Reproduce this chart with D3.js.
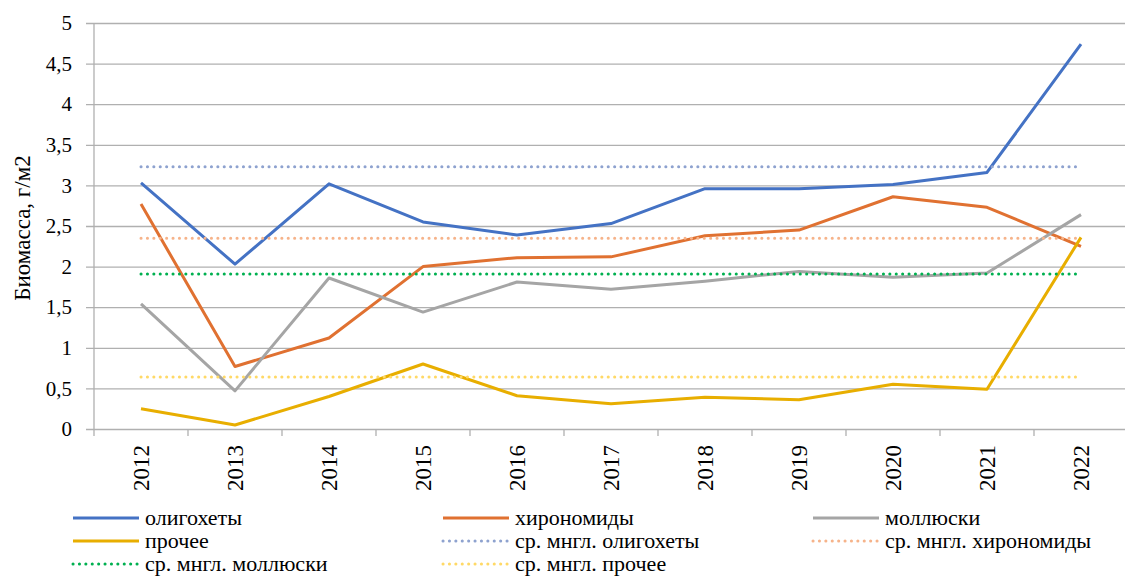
<!DOCTYPE html>
<html>
<head>
<meta charset="utf-8">
<script src="https://cdn.jsdelivr.net/npm/d3@7"></script>
<style>
	body { margin: 0; background: #fff; }
</style>
</head>
<body>
<script>
const years = ["2012", "2013", "2014", "2015", "2016", "2017", "2018", "2019", "2020", "2021", "2022"];
const oligochaetes = [3.03, 2.03, 3.02, 2.55, 2.39, 2.53, 2.96, 2.96, 3.01, 3.16, 4.74];
const chironomids = [2.77, 0.77, 1.12, 2.00, 2.11, 2.12, 2.38, 2.45, 2.86, 2.73, 2.25];
const molluscs = [1.54, 0.47, 1.86, 1.44, 1.81, 1.72, 1.82, 1.94, 1.87, 1.92, 2.64];
const other = [0.25, 0.05, 0.40, 0.80, 0.41, 0.31, 0.39, 0.36, 0.55, 0.49, 2.36];
const meanValues = [3.23, 2.35, 1.91, 0.64];
const yTicks = [0, 0.5, 1, 1.5, 2, 2.5, 3, 3.5, 4, 4.5, 5];

const series = [
	{ name: "олигохеты", values: oligochaetes, colour: "#4472c4" },
	{ name: "хирономиды", values: chironomids, colour: "#e07131" },
	{ name: "моллюски", values: molluscs, colour: "#a5a5a5" },
	{ name: "прочее", values: other, colour: "#e8ae00" }
];
const means = [
	{ name: "ср. мнгл. олигохеты", value: meanValues[0], colour: "#8ea2cf" },
	{ name: "ср. мнгл. хирономиды", value: meanValues[1], colour: "#f6b38a" },
	{ name: "ср. мнгл. моллюски", value: meanValues[2], colour: "#00b050" },
	{ name: "ср. мнгл. прочее", value: meanValues[3], colour: "#ffd966" }
];

const FONT = '"Liberation Serif", "Times New Roman", "DejaVu Serif", serif';
const width = 1125, height = 578;
const margin = { top: 23, right: -3, bottom: 149, left: 94 };

const svg = d3.select("body").append("svg")
	.attr("width", width)
	.attr("height", height);

const x = d3.scaleBand()
	.domain(years)
	.range([margin.left, width - margin.right]);

const y = d3.scaleLinear()
	.domain([0, 5])
	.range([height - margin.bottom, margin.top]);

const cx = d => x(d) + x.bandwidth() / 2;

// gridlines + y labels
const yAxis = g => g
	.attr("transform", `translate(${margin.left},0)`)
	.call(d3.axisLeft(y)
		.tickValues(yTicks)
		.tickSize(-(width - margin.left))
		.tickPadding(22)
		.tickFormat(d => String(d).replace(".", ",")))
	.call(g => g.select(".domain").remove())
	.call(g => g.selectAll(".tick line")
		.attr("x1", -8)
		.attr("x2", width - margin.left)
		.attr("stroke", "#b0b0b0")
		.attr("stroke-width", 1.3))
	.call(g => g.selectAll(".tick text")
		.style("font-family", FONT)
		.style("font-size", "21px")
		.attr("fill", "#000"));

svg.append("g").call(yAxis);

// left axis line
svg.append("line")
	.attr("x1", margin.left).attr("x2", margin.left)
	.attr("y1", y(5)).attr("y2", y(0) + 7)
	.attr("stroke", "#b0b0b0")
	.attr("stroke-width", 1.3);

// x axis ticks at band edges
svg.append("g")
	.selectAll("line")
	.data(years.slice(1))
	.enter()
	.append("line")
	.attr("x1", d => x(d)).attr("x2", d => x(d))
	.attr("y1", y(0)).attr("y2", y(0) + 7)
	.attr("stroke", "#b0b0b0")
	.attr("stroke-width", 1.3);

svg.append("g")
	.selectAll("text")
	.data(years)
	.enter()
	.append("text")
	.attr("transform", d => `translate(${cx(d)},${y(0) + 16}) rotate(-90)`)
	.attr("text-anchor", "end")
	.attr("dy", "0.35em")
	.style("font-family", FONT)
	.style("font-size", "23px")
	.text(d => d);

// y title
svg.append("text")
	.attr("transform", `translate(22,${(y(0) + y(5)) / 2 + 2}) rotate(-90)`)
	.attr("text-anchor", "middle")
	.attr("dy", "0.35em")
	.style("font-family", FONT)
	.style("font-size", "23px")
	.text("Биомасса, г/м2");

const line = d3.line()
	.x((d, i) => cx(years[i]))
	.y(d => y(d));

svg.append("g")
	.selectAll("path")
	.data(series)
	.enter()
	.append("path")
	.attr("fill", "none")
	.attr("stroke", d => d.colour)
	.attr("stroke-width", 3)
	.attr("stroke-linejoin", "round")
	.attr("d", d => line(d.values));

svg.append("g")
	.selectAll("line")
	.data(means)
	.enter()
	.append("line")
	.attr("x1", cx(years[0]))
	.attr("x2", cx(years[years.length - 1]))
	.attr("y1", d => y(d.value))
	.attr("y2", d => y(d.value))
	.attr("stroke", d => d.colour)
	.attr("stroke-width", 3)
	.attr("stroke-linecap", "round")
	.style("stroke-dasharray", "0.1,6.3");

// legend
const legendItems = [
	...series.map(d => ({ name: d.name, colour: d.colour, dotted: false })),
	...means.map(d => ({ name: d.name, colour: d.colour, dotted: true }))
];
const colX = [73, 443, 813];
const rowY = [518, 541, 564];

const lg = svg.append("g")
	.selectAll("g")
	.data(legendItems)
	.enter()
	.append("g")
	.attr("transform", (d, i) => `translate(${colX[i % 3]},${rowY[Math.floor(i / 3)]})`);

lg.append("line")
	.attr("x1", 0).attr("x2", 66)
	.attr("stroke", d => d.colour)
	.attr("stroke-width", 3)
	.attr("stroke-linecap", d => d.dotted ? "round" : "butt")
	.style("stroke-dasharray", d => d.dotted ? "0.1,6.3" : null);

lg.append("text")
	.attr("x", 72)
	.attr("dy", "0.32em")
	.style("font-family", FONT)
	.style("font-size", "22px")
	.text(d => d.name);
</script>
</body>
</html>
